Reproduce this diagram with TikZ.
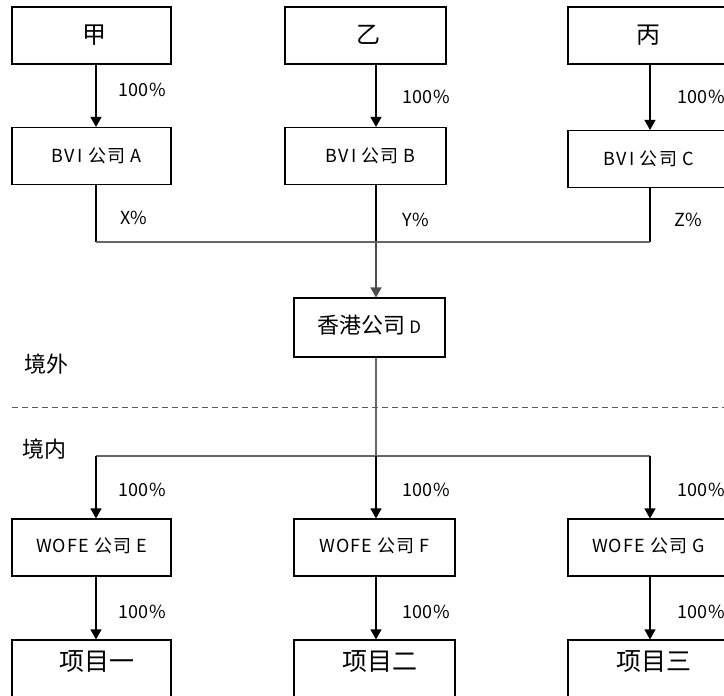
\documentclass[tikz,border=0pt]{standalone}
\usepackage{fontspec}
\setmainfont{Noto Sans CJK SC}
\usetikzlibrary{arrows.meta}
\tikzset{
  box/.style={draw, line width=1.1pt, minimum width=159pt, minimum height=57pt, inner sep=0pt, font=\fontsize{18}{18}\selectfont\addfontfeature{LetterSpace=6}},
  bigbox/.style={box, font=\fontsize{24}{24}\selectfont},
  projbox/.style={box, text depth=16pt, font=\fontsize{25}{25}\selectfont},
  conn/.style={line width=1.1pt, -{Triangle[length=10pt,width=11pt]}},
  gline/.style={line width=1.3pt, draw=black!60},
  pct/.style={anchor=west, inner sep=0pt, font=\fontsize{18}{18}\selectfont\addfontfeature{LetterSpace=2}},
  region/.style={anchor=west, inner sep=0pt, font=\fontsize{22}{22}\selectfont}
}
\begin{document}
\begin{tikzpicture}[x=1pt,y=-1pt]
\useasboundingbox (0,0) rectangle (724,696);
\clip (0,0) rectangle (724,696);
\fill[white] (0,0) rectangle (724,696);
% column coordinates
\coordinate (cA) at (96,0);
\coordinate (cB) at (376,0);
\coordinate (cC) at (650,0);
\coordinate (top) at (0,242);
\coordinate (bot) at (0,456);
% top row
\node[bigbox] (jia) at (91.5,35.5) {\hspace*{6pt}\raisebox{3pt}{甲}};
\node[bigbox, minimum width=161pt] (yi) at (365.5,35.5) {\hspace*{6pt}\raisebox{3pt}{乙}};
\node[bigbox, minimum width=161pt] (bing) at (648.5,35.5) {\raisebox{3pt}{丙}};
% BVI row
\node[box] (bviA) at (91.5,156) {\hspace*{10pt}BV\,I 公司 A};
\node[box, minimum width=161pt] (bviB) at (365.5,156) {\hspace*{10pt}BV\,I 公司 B};
\node[box, minimum width=161pt] (bviC) at (648.5,159) {BV\,I 公司 C};
% HK
\node[box, minimum width=151pt, minimum height=59pt, font=\fontsize{22}{22}\selectfont] (hk) at (369.5,327.5) {\raisebox{6pt}{香港公司\,{\fontsize{17}{17}\selectfont D}}};
% WOFE row
\node[box] (wE) at (91.5,547.5) {\raisebox{4pt}{WOFE 公司 E}};
\node[box, minimum width=161pt] (wF) at (374.5,547.5) {\raisebox{4pt}{WOFE 公司 F}};
\node[box, minimum width=161pt] (wG) at (648.5,547.5) {\raisebox{4pt}{WOFE 公司 G}};
% projects
\node[projbox] (p1) at (91.5,668.5) {\hspace*{10pt}项目一};
\node[projbox, minimum width=161pt] (p2) at (374.5,668.5) {\hspace*{10pt}项目二};
\node[projbox, minimum width=161pt] (p3) at (648.5,668.5) {\hspace*{10pt}项目三};
% top arrows
\draw[conn] (jia.south -| cA) -- (bviA.north -| cA);
\draw[conn] (yi.south -| cB) -- (bviB.north -| cB);
\draw[conn] (bing.south -| cC) -- (bviC.north -| cC);
% merge to HK
\draw[line width=1.1pt] (bviA.south -| cA) -- (top -| cA);
\draw[line width=1.1pt] (bviB.south -| cB) -- (top -| cB);
\draw[line width=1.1pt] (bviC.south -| cC) -- (top -| cC);
\draw[gline] (top -| cA) -- (top -| cC);
\draw[gline, -{Triangle[length=10pt,width=11pt]}, draw=black!70, fill=black] (top -| cB) -- (hk.north -| cB);
% HK down
\draw[gline] (hk.south -| cB) -- (bot -| cB);
\draw[gline] (bot -| cA) -- (bot -| cC);
\draw[conn] (bot -| cA) -- (wE.north -| cA);
\draw[conn] (bot -| cB) -- (wF.north -| cB);
\draw[conn] (bot -| cC) -- (wG.north -| cC);
\draw[conn] (wE.south -| cA) -- (p1.north -| cA);
\draw[conn] (wF.south -| cB) -- (p2.north -| cB);
\draw[conn] (wG.south -| cC) -- (p3.north -| cC);
% labels
\node[pct] (l1) at (118,90) {100\%};
\node[pct] (l2) at (402,97) {100\%};
\node[pct] (l3) at (677,97) {100\%};
\node[pct] (lx) at (120,218) {X\%};
\node[pct] (ly) at (402,220) {Y\%};
\node[pct] (lz) at (674,220) {Z\%};
\node[pct] (l4) at (118,490) {100\%};
\node[pct] (l5) at (402,490) {100\%};
\node[pct] (l6) at (677,490) {100\%};
\node[pct] (l7) at (118,612) {100\%};
\node[pct] (l8) at (402,612) {100\%};
\node[pct] (l9) at (677,612) {100\%};
% regions
\node[region] (out) at (24,364) {境外};
\node[region] (in) at (22,449) {境内};
\coordinate (dl) at (12,407);
\coordinate (dr) at (724,407);
\draw[line width=1pt, draw=black!65, dash pattern=on 6pt off 4pt] (dl) -- (dr);
\end{tikzpicture}
\end{document}
